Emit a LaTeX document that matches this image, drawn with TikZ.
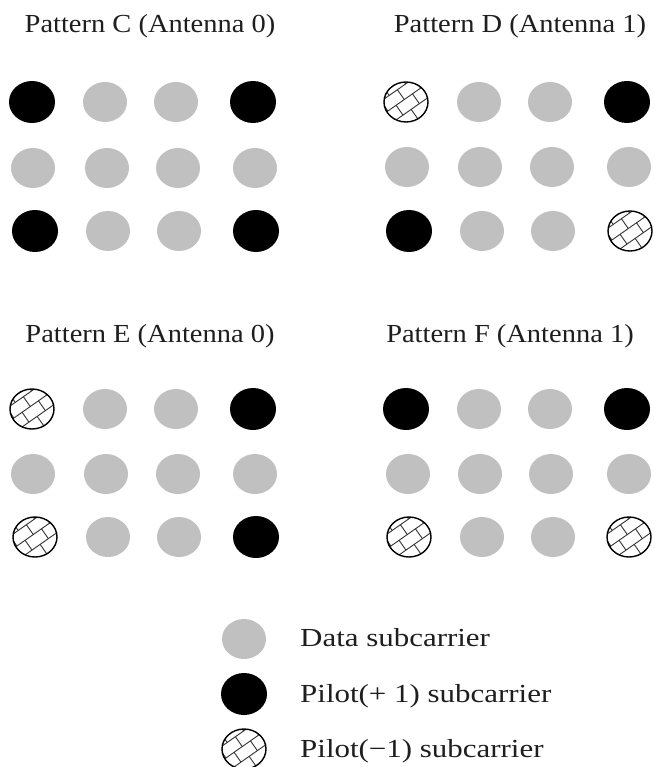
\documentclass[tikz,border=0pt]{standalone}
\usepackage{fontspec}
\setmainfont{Liberation Serif}
\newfontfamily\titlefont[FakeStretch=1.095]{Liberation Serif}
\newfontfamily\legfont[FakeStretch=1.19]{Liberation Serif}
\usetikzlibrary{shapes.geometric,calc}
\definecolor{dgray}{RGB}{192,192,192}
\definecolor{txt}{RGB}{30,30,30}
\tikzset{
  dsc/.style={ellipse, minimum width=44pt, minimum height=40pt, inner sep=0pt, fill=dgray},
  psc/.style={ellipse, minimum width=46pt, minimum height=42pt, inner sep=0pt, fill=black},
  nsc/.style={ellipse, minimum width=44pt, minimum height=40pt, inner sep=0pt, fill=white,
    draw=black, line width=1.4pt,
    path picture={
      \coordinate (hc) at (path picture bounding box.center);
      \foreach \i in {-3,...,3} {
        \draw[line width=0.9pt, black!80] ($(hc)+(125:\i*12pt+3pt)+(35:-40pt)$) -- ($(hc)+(125:\i*12pt+3pt)+(35:40pt)$);
        \pgfmathsetmacro\off{Mod(\i,2)*10}
        \foreach \j in {-3,...,3} {
          \draw[line width=0.9pt, black!80] ($(hc)+(125:\i*12pt+3pt)+(35:\j*20pt+\off*1pt)$) -- ++(125:12pt);
        }
      }}},
  title/.style={anchor=base, font=\titlefont\fontsize{26pt}{30pt}\selectfont, text=txt, inner sep=0pt},
  leg/.style={anchor=base west, font=\legfont\fontsize{26pt}{30pt}\selectfont, text=txt, inner sep=0pt}
}
\begin{document}
\begin{tikzpicture}[x=1pt,y=-1pt]
\fill[white] (0,0) rectangle (653,767);
\useasboundingbox (0,0) rectangle (653,767);
% titles
\node[title] (tC) at (150,33) {Pattern C (Antenna 0)};
\node[title] (tD) at (520,33) {Pattern D (Antenna 1)};
\node[title] (tE) at (150,342) {Pattern E (Antenna 0)};
\node[title] (tF) at (510,342) {Pattern F (Antenna 1)};
% Pattern C
\node[psc] (C11) at (32,102) {};
\node[dsc] (C12) at (105,102) {};
\node[dsc] (C13) at (176,102) {};
\node[psc] (C14) at (253,102) {};
\node[dsc] (C21) at (33,168) {};
\node[dsc] (C22) at (107,168) {};
\node[dsc] (C23) at (178,168) {};
\node[dsc] (C24) at (255,168) {};
\node[psc] (C31) at (35,231) {};
\node[dsc] (C32) at (108,231) {};
\node[dsc] (C33) at (179,231) {};
\node[psc] (C34) at (256,231) {};
% Pattern D
\node[nsc] (D11) at (406,102) {};
\node[dsc] (D12) at (479,102) {};
\node[dsc] (D13) at (550,102) {};
\node[psc] (D14) at (627,102) {};
\node[dsc] (D21) at (407,167) {};
\node[dsc] (D22) at (480,167) {};
\node[dsc] (D23) at (552,167) {};
\node[dsc] (D24) at (629,167) {};
\node[psc] (D31) at (409,231) {};
\node[dsc] (D32) at (482,231) {};
\node[dsc] (D33) at (553,231) {};
\node[nsc] (D34) at (630,231) {};
% Pattern E
\node[nsc] (E11) at (32,409) {};
\node[dsc] (E12) at (105,409) {};
\node[dsc] (E13) at (176,409) {};
\node[psc] (E14) at (253,409) {};
\node[dsc] (E21) at (33,474) {};
\node[dsc] (E22) at (106,474) {};
\node[dsc] (E23) at (178,474) {};
\node[dsc] (E24) at (255,474) {};
\node[nsc] (E31) at (35,537) {};
\node[dsc] (E32) at (108,537) {};
\node[dsc] (E33) at (179,537) {};
\node[psc] (E34) at (256,537) {};
% Pattern F
\node[psc] (F11) at (406,409) {};
\node[dsc] (F12) at (479,409) {};
\node[dsc] (F13) at (550,409) {};
\node[psc] (F14) at (627,409) {};
\node[dsc] (F21) at (408,474) {};
\node[dsc] (F22) at (480,474) {};
\node[dsc] (F23) at (551,474) {};
\node[dsc] (F24) at (629,474) {};
\node[nsc] (F31) at (409,537) {};
\node[dsc] (F32) at (482,537) {};
\node[dsc] (F33) at (553,537) {};
\node[nsc] (F34) at (629,537) {};
% legend
\node[dsc] (L1) at (244,639) {};
\node[psc] (L2) at (244,694) {};
\node[nsc] (L3) at (244,749) {};
\node[leg] (l1) at (300,646) {Data subcarrier};
\node[leg] (l2) at (300,702) {Pilot(+ 1) subcarrier};
\node[leg] (l3) at (300,757) {Pilot(−1) subcarrier};
\end{tikzpicture}
\end{document}
